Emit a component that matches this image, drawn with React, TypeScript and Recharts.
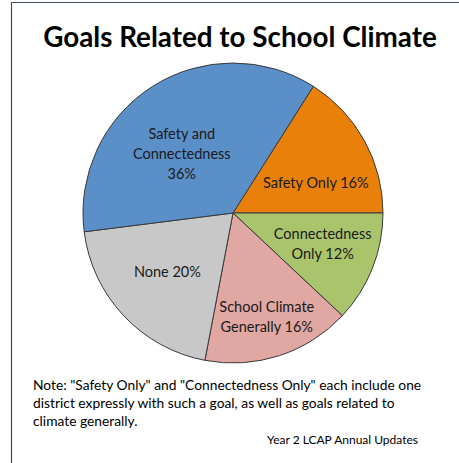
import React from 'react';
import { PieChart, Pie, Cell } from 'recharts';

const categories = ['Safety Only', 'Connectedness Only', 'School Climate Generally', 'None', 'Safety and Connectedness'];
const shares = [16, 12, 16, 20, 36];
const labelLines = [
  ['Safety Only 16%'],
  ['Connectedness', 'Only 12%'],
  ['School Climate', 'Generally 16%'],
  ['None 20%'],
  ['Safety and', 'Connectedness', '36%'],
];
const colors = ['#E8800A', '#A9C46B', '#E0A7A3', '#C8C8C8', '#5B8FC8'];

const title = 'Goals Related to School Climate';
const noteLines = [
  'Note: "Safety Only" and "Connectedness Only" each include one',
  'district expressly with such a goal, as well as goals related to',
  'climate generally.',
];
const source = 'Year 2 LCAP Annual Updates';

const data = categories.map((name, i) => ({ name, value: shares[i], lines: labelLines[i] }));

// nudges to mimic Excel's best-fit label placement
const nudges: Record<string, [number, number]> = {
  'Safety and Connectedness': [-3, 16],
  'Safety Only': [4, 12],
  'Connectedness Only': [6, -3],
  'School Climate Generally': [6, 17],
  None: [0, -4],
};

const FONT = 'Lato, "Open Sans", sans-serif';

const renderLabel = (props: any) => {
  const { cx, cy, midAngle, outerRadius, payload, name } = props;
  const rad = (midAngle * Math.PI) / 180;
  const r = outerRadius * 0.6;
  const key = (payload && payload.name) || name;
  const [nx, ny] = nudges[key] || [0, 0];
  const x = cx + r * Math.cos(rad) + nx;
  const y = cy - r * Math.sin(rad) + ny;
  const lines: string[] = (payload && payload.lines) || [String(name)];
  const lh = 20;
  const y0 = y - ((lines.length - 1) * lh) / 2;
  return (
    <text x={x} y={y0} textAnchor="middle" dominantBaseline="central" fill="#1a1a1a" fontSize={14.5} fontFamily={FONT}>
      {lines.map((l, i) => (
        <tspan key={i} x={x} y={y0 + i * lh}>
          {l}
        </tspan>
      ))}
    </text>
  );
};

export default function App() {
  return (
    <div style={{ position: 'absolute', left: 0, top: 0, width: 459, height: 463, background: '#fff', overflow: 'hidden' }}>
      <svg width={459} height={463} style={{ position: 'absolute', left: 0, top: 0 }}>
        <line x1={11} y1={2.5} x2={459} y2={2.5} stroke="#3E4E63" strokeWidth={1.2} />
        <line x1={11.5} y1={2} x2={11.5} y2={463} stroke="#3E4E63" strokeWidth={1.2} />
        <text x={240} y={47} textAnchor="middle" fontSize={27.8} fontWeight={700} fontFamily={FONT} fill="#000">
          {title}
        </text>
        {noteLines.map((l, i) => (
          <text key={i} x={33} y={390 + i * 18} fontSize={13.8} fontFamily={FONT} fill="#000">
            {l}
          </text>
        ))}
        <text x={418} y={444} textAnchor="end" fontSize={12} fontFamily={FONT} fill="#000">
          {source}
        </text>
      </svg>
      <div style={{ position: 'absolute', left: 0, top: 0 }}>
        <PieChart width={459} height={463} margin={{ top: 0, right: 0, bottom: 0, left: 0 }}>
          <Pie
            data={data}
            dataKey="value"
            nameKey="name"
            cx={233}
            cy={213}
            outerRadius={150}
            startAngle={57.6}
            endAngle={-302.4}
            stroke="#3A3A3A"
            strokeWidth={1}
            label={renderLabel}
            labelLine={false}
            isAnimationActive={false}
          >
            {data.map((d, i) => (
              <Cell key={d.name} fill={colors[i]} />
            ))}
          </Pie>
        </PieChart>
      </div>
    </div>
  );
}
